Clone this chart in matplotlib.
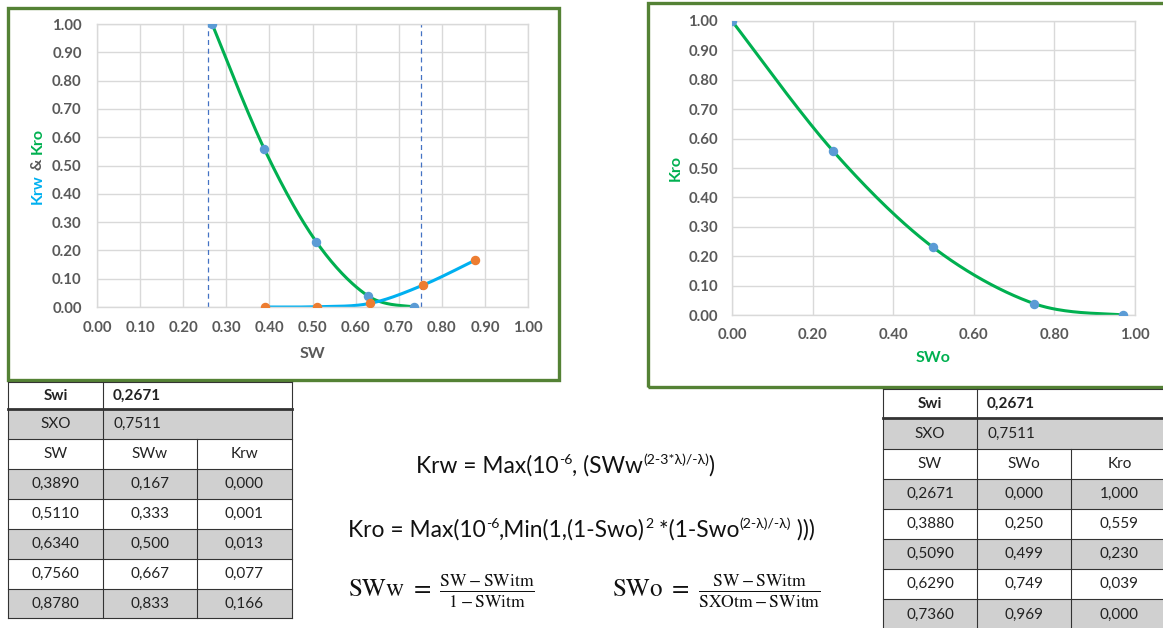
import numpy as np
import matplotlib
matplotlib.use('Agg')
import matplotlib.pyplot as plt
from matplotlib.patches import Rectangle
from matplotlib.lines import Line2D

plt.rcParams['font.family'] = ['Lato', 'DejaVu Sans']

W, H = 1163, 628

# ---------------- data ----------------
swi = 0.2671
sxo = 0.7511
dashed_sw = [0.257, 0.7511]          # vertical dashed guides as drawn
sw_kro = [0.2671, 0.3880, 0.5090, 0.6290, 0.7360]
swo = [0.000, 0.250, 0.499, 0.749, 0.969]
kro = [1.000, 0.559, 0.230, 0.039, 0.000]
sw_krw = [0.3890, 0.5110, 0.6340, 0.7560, 0.8780]
sww = [0.167, 0.333, 0.500, 0.667, 0.833]
krw = [0.000, 0.001, 0.013, 0.077, 0.166]
left_xticks = [0.0, 0.1, 0.2, 0.3, 0.4, 0.5, 0.6, 0.7, 0.8, 0.9, 1.0]
right_xticks = [0.0, 0.2, 0.4, 0.6, 0.8, 1.0]
yticks = [0.0, 0.1, 0.2, 0.3, 0.4, 0.5, 0.6, 0.7, 0.8, 0.9, 1.0]
krw_header = ['SW', 'SWw', 'Krw']
kro_header = ['SW', 'SWo', 'Kro']

GREEN = '#00B050'
CYAN = '#00B0F0'
BLUE_M = '#5B9BD5'
ORANGE = '#ED7D31'
FRAME = '#548235'
GRAY_T = '#595959'
GRID = '#D9D9D9'
FILL = '#D0D0D0'


def fx(x):
    return x / W


def fy(y):
    return 1 - y / H


def excel_smooth(x, y, n=40):
    p = np.column_stack([x, y]).astype(float)
    out = [p[0]]
    t = np.linspace(0, 1, n)[1:, None]
    for i in range(len(p) - 1):
        p0 = p[i - 1] if i > 0 else p[i]
        p1, p2 = p[i], p[i + 1]
        p3 = p[i + 2] if i + 2 < len(p) else p[i + 1]
        c1 = p1 + (p2 - p0) / 6
        c2 = p2 - (p3 - p1) / 6
        seg = ((1 - t) ** 3) * p1 + 3 * ((1 - t) ** 2) * t * c1 + 3 * (1 - t) * t ** 2 * c2 + t ** 3 * p2
        out.extend(seg)
    out = np.array(out)
    return out[:, 0], out[:, 1]


fig = plt.figure(figsize=(W / 100, H / 100), dpi=100)
fig.patch.set_facecolor('white')


def setup(ax, xticks, xpad, ypad):
    ax.set_xlim(0, 1)
    ax.set_ylim(0, 1)
    ax.set_xticks(xticks)
    ax.set_yticks(yticks)
    ax.set_xticklabels([f'{v:.2f}' for v in xticks], fontweight='bold')
    ax.set_yticklabels([f'{v:.2f}' for v in yticks], fontweight='bold')
    ax.grid(True, color=GRID, lw=1.0)
    ax.set_axisbelow(True)
    for s in ax.spines.values():
        s.set_color(GRID)
        s.set_linewidth(1.0)
    ax.tick_params(axis='both', length=0, labelsize=10.8, labelcolor=GRAY_T)
    ax.tick_params(axis='x', pad=xpad)
    ax.tick_params(axis='y', pad=ypad)


# frames
fig.add_artist(Rectangle((fx(8), fy(380)), fx(559 - 8), 372 / H, transform=fig.transFigure,
                         fill=False, edgecolor=FRAME, lw=2.4))
fig.add_artist(Rectangle((fx(648), fy(387)), fx(1180 - 648), 384 / H, transform=fig.transFigure,
                         fill=False, edgecolor=FRAME, lw=2.4, clip_on=False))

# ---------------- left chart ----------------
ax1 = fig.add_axes([fx(97), fy(307), fx(528 - 97), (307 - 24) / H])
setup(ax1, left_xticks, 10, 11)
for xv in dashed_sw:
    ax1.axvline(xv, color='#4472C4', lw=0.9, ls=(0, (4, 3)))
xs, ys = excel_smooth(sw_kro, kro)
ax1.plot(xs, ys, color=GREEN, lw=2.2, solid_capstyle='round')
ax1.plot(sw_kro, kro, 'o', color=BLUE_M, ms=5.8, zorder=3)
xs, ys = excel_smooth(sw_krw, krw)
ax1.plot(xs, ys, color=CYAN, lw=2.2, solid_capstyle='round')
ax1.plot(sw_krw, krw, 'o', color=ORANGE, ms=5.8, zorder=4)
ax1.set_xlabel('SW', fontsize=11.5, fontweight='bold', color=GRAY_T, labelpad=9)

# ---------------- right chart ----------------
ax2 = fig.add_axes([fx(732), fy(315), fx(1135 - 732), (315 - 21) / H])
setup(ax2, right_xticks, 9, 10)
xs, ys = excel_smooth(swo, kro)
ax2.plot(xs, ys, color=GREEN, lw=2.2, solid_capstyle='round')
ax2.plot(swo, kro, 'o', color=BLUE_M, ms=5.8, zorder=3)
ax2.set_xlabel('SWo', fontsize=11.5, fontweight='bold', color=GREEN, labelpad=7)

fig.text(fx(676), fy(168), 'Kro', rotation=90, ha='center', va='center', fontsize=11.5,
         fontweight='bold', color=GREEN)

renderer = fig.canvas.get_renderer()

# composite rotated label for left chart
parts = [('Krw', CYAN), (' & ', GRAY_T), ('Kro', GREEN)]
widths = []
for s, c in parts:
    t = fig.text(0, 0, s, rotation=0, fontsize=11.5, fontweight='bold')
    widths.append(t.get_window_extent(renderer).width)
    t.remove()
total = sum(widths)
ycur = 166 + total / 2
for (s, c), w in zip(parts, widths):
    fig.text(fx(38), fy(ycur), s, rotation=90, rotation_mode='anchor', ha='left', va='center',
             fontsize=11.5, fontweight='bold', color=c)
    ycur -= w


# ---------------- tables ----------------
def draw_table(cols, rows_y, sw_vals, s_vals, k_vals, header, right_border=True):
    n = len(rows_y) - 1
    for i in range(n):
        fillc = FILL if i in (1, 3, 5, 7) else 'white'
        fig.add_artist(Rectangle((fx(cols[0]), fy(rows_y[i + 1])), fx(cols[-1] - cols[0]),
                                 (rows_y[i + 1] - rows_y[i]) / H, transform=fig.transFigure,
                                 facecolor=fillc, edgecolor='none', zorder=1))
    for i, yv in enumerate(rows_y):
        lw = 2.0 if i == 1 else 0.8
        fig.add_artist(Line2D([fx(cols[0]), fx(cols[-1])], [fy(yv), fy(yv)], color='#333333',
                              lw=lw, transform=fig.transFigure, zorder=2))
    vlines = [(cols[0], rows_y[0], rows_y[-1]), (cols[1], rows_y[0], rows_y[-1]),
              (cols[2], rows_y[2], rows_y[-1])]
    if right_border:
        vlines.append((cols[3], rows_y[0], rows_y[-1]))
    for xv, y0, y1 in vlines:
        fig.add_artist(Line2D([fx(xv), fx(xv)], [fy(y0), fy(y1)], color='#333333', lw=0.8,
                              transform=fig.transFigure, zorder=2))

    def cell(col, row, s, bold=False, left=False):
        yc = (rows_y[row] + rows_y[row + 1]) / 2
        if left:
            xc, ha = cols[col] + 10, 'left'
        else:
            xc, ha = (cols[col] + cols[col + 1]) / 2, 'center'
        fig.text(fx(xc), fy(yc), s, ha=ha, va='center', fontsize=11,
                 fontweight='bold' if bold else 'normal', color='#222222', zorder=3)

    cell(0, 0, 'Swi', bold=True)
    cell(1, 0, f'{swi:.4f}'.replace('.', ','), bold=True, left=True)
    cell(0, 1, 'SXO')
    cell(1, 1, f'{sxo:.4f}'.replace('.', ','), left=True)
    for j, h in enumerate(header):
        cell(j, 2, h)
    for i in range(len(sw_vals)):
        cell(0, 3 + i, f'{sw_vals[i]:.4f}'.replace('.', ','))
        cell(1, 3 + i, f'{s_vals[i]:.3f}'.replace('.', ','))
        cell(2, 3 + i, f'{k_vals[i]:.3f}'.replace('.', ','))


draw_table([8, 103, 197, 292], [382, 409, 439, 469, 499, 529, 559, 589, 618],
           sw_krw, sww, krw, krw_header)
draw_table([883, 977, 1071, 1168], [389, 418, 449, 479, 509, 539, 569, 599, 630],
           sw_kro, swo, kro, kro_header, right_border=False)


# ---------------- formulas ----------------
def rich(x_px, base_px, parts, size, color='#111111'):
    xcur = x_px
    for txt, sup in parts:
        fs = size * 0.62 if sup else size
        dy = size * 0.40 * 100 / 72 if sup else 0
        t = fig.text(fx(xcur), fy(base_px - dy), txt, fontsize=fs, color=color,
                     ha='left', va='baseline')
        xcur += t.get_window_extent(renderer).width


rich(416, 473, [('Krw = Max(10', False), ('-6', True), (', (SWw', False),
                ('(2-3*λ)/-λ)', True), (')', False)], 16.4)
rich(348, 537, [('Kro = Max(10', False), ('-6', True), (',Min(1,(1-Swo)', False), ('2', True),
                (' *(1-Swo', False), ('(2-λ)/-λ)', True), (' )))', False)], 16.4)

fig.text(fx(348), fy(597), r'$\mathrm{SWw}\ =\ \frac{\mathrm{SW-SWitm}}{\mathrm{1-SWitm}}$',
         fontsize=18, math_fontfamily='stix', ha='left', va='baseline', color='#111111')
fig.text(fx(612), fy(597), r'$\mathrm{SWo}\ =\ \frac{\mathrm{SW-SWitm}}{\mathrm{SXOtm-SWitm}}$',
         fontsize=18, math_fontfamily='stix', ha='left', va='baseline', color='#111111')

fig.savefig('out.png', dpi=100, facecolor='white')
